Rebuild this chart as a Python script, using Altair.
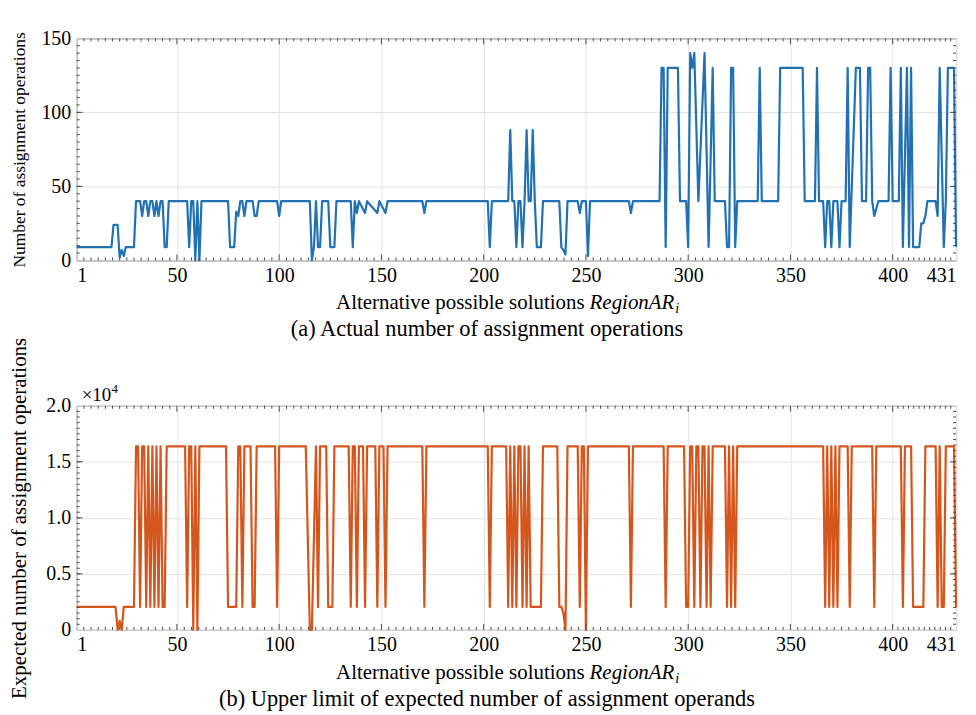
import altair as alt
import pandas as pd

# ---------------- data ----------------
# (a) actual number of assignment operations: breakpoints [index, value]
pts_a = [
    [1, 9], [18, 9], [19, 24], [21, 24], [22, 2], [23, 7], [24, 3], [25, 9], [29, 9],
    [30, 40], [32, 40], [33, 30], [34, 40], [35, 40], [36, 30], [37, 40], [38, 40], [39, 30],
    [40, 40], [41, 30], [42, 40], [43, 40], [44, 9], [45, 9], [46, 40], [55, 40], [56, 9],
    [57, 40], [58, 40], [59, 0], [60, 40], [61, 0], [62, 40], [75, 40], [76, 9], [78, 9],
    [79, 33], [80, 30], [81, 40], [82, 40], [83, 30], [84, 40], [87, 40], [88, 30], [89, 30],
    [90, 40], [99, 40], [100, 30], [101, 40], [115, 40], [116, 0], [117, 9], [118, 40],
    [119, 9], [120, 9], [121, 40], [124, 40], [125, 9], [127, 9], [128, 40], [135, 40],
    [136, 9], [137, 40], [138, 32], [139, 40], [142, 32], [143, 40], [148, 32], [149, 40],
    [152, 32], [153, 40], [170, 40], [171, 32], [172, 40], [202, 40], [203, 9], [204, 40],
    [212, 40], [213, 88], [214, 40], [215, 40], [216, 9], [217, 40], [218, 40], [219, 9],
    [220, 40], [221, 88], [222, 40], [223, 40], [224, 88], [225, 40], [226, 9], [228, 9],
    [229, 40], [237, 40], [238, 9], [239, 7], [240, 4], [241, 40], [246, 40], [247, 32],
    [248, 40], [250, 40], [251, 3], [252, 40], [271, 40], [272, 32], [273, 40], [286, 40],
    [287, 130], [288, 130], [289, 9], [290, 130], [295, 130], [296, 40], [299, 40], [300, 9],
    [301, 140], [302, 130], [303, 140], [305, 40], [308, 140], [310, 9], [312, 130],
    [313, 40], [318, 40], [319, 9], [320, 9], [321, 130], [322, 130], [323, 9], [324, 40],
    [334, 40], [335, 130], [336, 40], [344, 40], [345, 130], [356, 130], [357, 40],
    [362, 40], [363, 130], [364, 40], [366, 40], [367, 9], [368, 40], [369, 40], [370, 9],
    [371, 40], [373, 40], [374, 9], [375, 40], [377, 40], [378, 130], [379, 9], [382, 130],
    [384, 130], [385, 40], [387, 40], [388, 130], [389, 130], [390, 40], [391, 30],
    [393, 40], [398, 40], [399, 130], [400, 40], [403, 40], [404, 130], [405, 9],
    [407, 130], [408, 9], [409, 130], [410, 9], [413, 9], [414, 25], [415, 25], [416, 30],
    [417, 40], [421, 40], [422, 30], [423, 130], [425, 9], [426, 40], [427, 130],
    [430, 130], [431, 9],
]

# (b) upper limit of expected number (x10^4): breakpoints [index, value]
HI = 1.6384
LO = 0.2048
pts_b = [
    [1, LO], [20, LO], [21, 0], [22, 0.08], [23, 0], [24, LO], [29, LO], [30, HI], [31, HI],
    [32, LO], [33, HI], [34, HI], [35, LO], [36, HI], [37, LO], [38, HI], [39, LO], [40, HI],
    [41, LO], [42, HI], [43, LO], [44, LO], [45, HI], [54, HI], [55, LO], [56, HI], [57, HI],
    [58, 0], [59, HI], [60, 0], [61, HI], [74, HI], [75, LO], [79, LO], [80, HI], [81, HI],
    [82, LO], [83, HI], [86, HI], [87, LO], [88, LO], [89, HI], [98, HI], [99, LO],
    [100, HI], [113, HI], [115, 0], [116, 0], [118, HI], [119, LO], [120, HI], [123, HI],
    [124, LO], [126, LO], [127, HI], [134, HI], [135, LO], [136, HI], [137, HI], [138, LO],
    [139, HI], [141, HI], [142, LO], [143, HI], [147, HI], [148, LO], [149, HI], [151, HI],
    [152, LO], [153, HI], [170, HI], [171, LO], [172, HI], [202, HI], [203, LO], [204, HI],
    [211, HI], [212, LO], [213, HI], [214, LO], [215, HI], [216, LO], [217, HI], [218, HI],
    [219, LO], [220, HI], [221, LO], [222, HI], [223, LO], [228, LO], [229, HI], [236, HI],
    [237, LO], [238, LO], [239, 0.15], [240, 0], [241, HI], [246, HI], [247, LO], [248, HI],
    [249, HI], [250, 0], [251, HI], [271, HI], [272, LO], [273, HI], [288, HI], [289, LO],
    [290, HI], [298, HI], [299, LO], [300, LO], [301, HI], [302, HI], [303, LO], [304, HI],
    [305, HI], [306, LO], [307, HI], [308, HI], [309, LO], [310, HI], [311, LO], [312, HI],
    [318, HI], [319, LO], [320, HI], [321, LO], [322, HI], [323, LO], [324, HI], [366, HI],
    [367, LO], [368, HI], [369, LO], [370, HI], [371, LO], [372, HI], [373, LO], [374, HI],
    [378, HI], [379, LO], [380, HI], [390, HI], [391, LO], [392, HI], [404, HI], [405, LO],
    [406, HI], [409, HI], [410, LO], [415, LO], [416, HI], [421, HI], [422, LO], [423, HI],
    [424, LO], [425, LO], [426, HI], [430, HI], [431, LO],
]

x_ticks = [1, 50, 100, 150, 200, 250, 300, 350, 400, 431]
ya_ticks = [0, 50, 100, 150]
yb_ticks = [0, 0.5, 1.0, 1.5, 2.0]

title_x = "Alternative possible solutions"
title_x_it = "RegionAR"
title_x_sub = "i"
caption_a = "(a) Actual number of assignment operations"
caption_b = "(b) Upper limit of expected number of assignment operands"
ytitle_a = "Number of assignment operations"
ytitle_b = "Expected number of assignment operations"

# ---------------- styling ----------------
FONT = "Liberation Serif"
W = 883
HA = 223
HB = 225
BLUE = "#2271b3"
ORANGE = "#d4561d"
GRID = "#e4e4e4"
FRAME = "#4a4a4a"

# minor tick positions (style only)
x_minor = []
for a, b in zip(x_ticks[:-1], x_ticks[1:]):
    n = 14 if b - a > 40 else 12
    x_minor += [a + (b - a) * k / n for k in range(1, n)]
ya_minor = [v * 5 for v in range(1, 30)]
yb_minor = [round(v * 0.05, 3) for v in range(1, 40)]

xscale = alt.Scale(domain=[1, 431], nice=False, zero=False)
x_axis = alt.Axis(values=x_ticks, title=None, grid=True, gridColor=GRID,
                  ticks=False, domain=False, labelFont=FONT, labelFontSize=20,
                  labelColor="black", labelPadding=5, labelFlush=True)


def panel(pts, color, ydomain, yticks, yminor, ytitle, ytitle_size, label_expr, h,
          caption, extra):
    df = pd.DataFrame(pts, columns=["x", "y"])
    yscale = alt.Scale(domain=ydomain, nice=False, zero=False)
    y_axis = alt.Axis(values=yticks, title=ytitle, grid=True, gridColor=GRID,
                      ticks=False, domain=False, labelFont=FONT, labelFontSize=20,
                      labelColor="black", labelPadding=6, labelExpr=label_expr,
                      titleFont=FONT, titleFontSize=ytitle_size,
                      titleFontWeight="normal", titleColor="black",
                      titleX=-57, titleY=h / 2, titleAngle=-90,
                      titleAlign="center", titleBaseline="middle")
    line = alt.Chart(df).mark_line(color=color, strokeWidth=2.2, strokeJoin="round").encode(
        x=alt.X("x:Q", scale=xscale, axis=x_axis),
        y=alt.Y("y:Q", scale=yscale, axis=y_axis),
    )
    layers = [line]

    def xrule(vals, y0, y1):
        d = pd.DataFrame({"x": vals})
        return alt.Chart(d).mark_rule(color=FRAME, strokeWidth=1).encode(
            x=alt.X("x:Q", scale=xscale, axis=x_axis), y=alt.value(y0), y2=alt.value(y1))

    def yrule(vals, x0, x1):
        d = pd.DataFrame({"y": vals})
        return alt.Chart(d).mark_rule(color=FRAME, strokeWidth=1).encode(
            y=alt.Y("y:Q", scale=yscale, axis=y_axis), x=alt.value(x0), x2=alt.value(x1))

    layers += [xrule(x_ticks[1:-1], h, h - 6), xrule(x_ticks[1:-1], 0, 6),
               xrule(x_minor, h, h - 3), xrule(x_minor, 0, 3),
               yrule(yticks[1:-1], 0, 6), yrule(yticks[1:-1], W, W - 6),
               yrule(yminor, 0, 3), yrule(yminor, W, W - 3)]

    def txt(s, x, y, size=20, align="center", style="normal"):
        return alt.Chart(pd.DataFrame({"t": [s]})).mark_text(
            font=FONT, fontSize=size, align=align, baseline="middle", fontStyle=style,
            color="black").encode(x=alt.value(x), y=alt.value(y), text="t:N")

    A = 510
    layers += [txt(title_x, A, h + 43, size=21, align="right"),
               txt(title_x_it, A + 5, h + 43, size=21, align="left", style="italic"),
               txt(title_x_sub, A + 91, h + 49, size=14, align="left", style="italic"),
               txt(caption, 412, h + 69, size=22.5)]
    if extra:
        layers += [txt("×10", 5, -11, size=19, align="left"),
                   txt("4", 35, -17, size=13, align="left")]
    return alt.layer(*layers).properties(width=W, height=h)


top = panel(pts_a, BLUE, [0, 150], ya_ticks, ya_minor, ytitle_a, 17.5, "datum.label", HA,
            caption_a, False)
bottom = panel(pts_b, ORANGE, [0, 2], yb_ticks, yb_minor, ytitle_b, 21,
               "datum.value == 0 ? '0' : format(datum.value, '.1f')", HB, caption_b, True)

chart = alt.vconcat(top, bottom, spacing=146, bounds="flush").properties(
    padding={"left": 0, "top": 18, "right": 10, "bottom": 0},
    background="white",
).configure_view(stroke=FRAME, strokeWidth=1)

chart.save("out.html", embed_options={"renderer": "svg", "actions": False})
